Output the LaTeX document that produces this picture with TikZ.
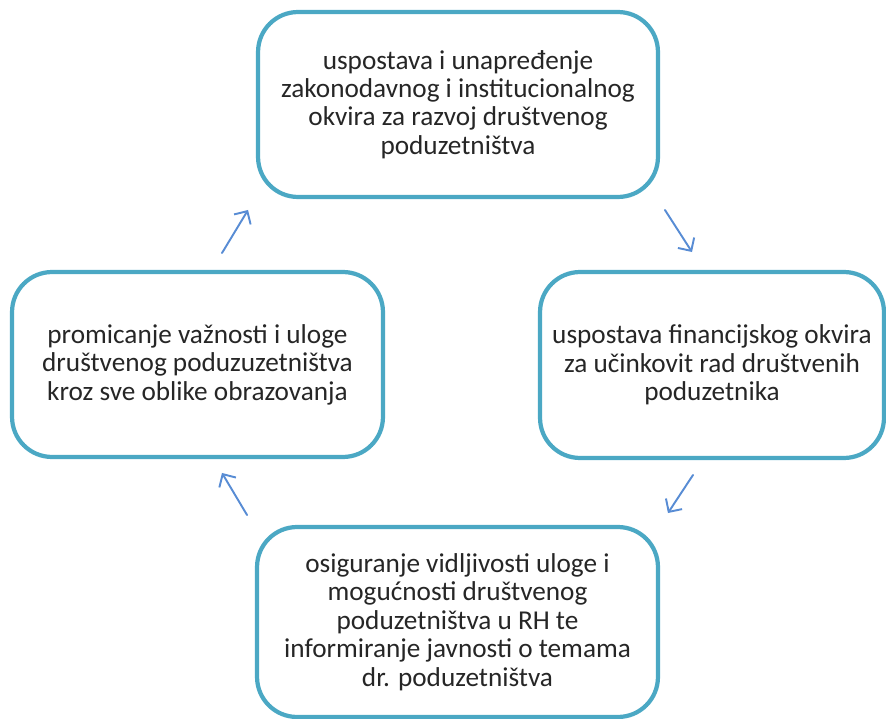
\documentclass[tikz,border=0pt]{standalone}
\usepackage{fontspec}
\setmainfont{Carlito}
\usetikzlibrary{arrows.meta,positioning}
\definecolor{okvirboja}{RGB}{75,168,196}
\definecolor{tokboja}{RGB}{88,140,212}

\begin{document}
\begin{tikzpicture}[x=0.02cm,y=-0.02cm,
    kutija/.style={draw=okvirboja, line width=2.4pt, rounded corners=0.8cm,
      fill=white, outer sep=0pt, align=center, text=black!85,
      font=\fontsize{15.5}{16.2}\selectfont},
    tok/.style={draw=tokboja, line width=1.1pt, line cap=round,
      -{Straight Barb[length=5.5pt,width=11pt]}}]
    \useasboundingbox (0,0) rectangle (886,719);
    \node[kutija, minimum width=8cm, minimum height=3.7cm] (gore) at (458,104.5)
      {uspostava i unapređenje\\ zakonodavnog i institucionalnog\\ okvira za razvoj društvenog\\ poduzetništva};
    \node[kutija, minimum width=6.88cm, minimum height=3.72cm] (desno) at (712,365)
      {uspostava financijskog okvira\\ za učinkovit rad društvenih\\ poduzetnika};
    \node[kutija, minimum width=8.02cm, minimum height=3.8cm] (dolje) at (457.5,622)
      {osiguranje vidljivosti uloge i\\ mogućnosti društvenog\\ poduzetništva u RH te\\ informiranje javnosti o temama\\ dr. poduzetništva};
    \node[kutija, minimum width=7.42cm, minimum height=3.7cm] (lijevo) at (197.5,364.5)
      {promicanje važnosti i uloge\\ društvenog poduzuzetništva\\ kroz sve oblike obrazovanja};
    \draw[tok] ([shift={(24.5,-19)}]lijevo.north) -- ([shift={(-10,13)}]gore.south west);
    \draw[tok] ([shift={(7,13)}]gore.south east) -- ([shift={(-20,-20)}]desno.north);
    \draw[tok] ([shift={(-19,17)}]desno.south) -- ([shift={(10,-14)}]dolje.north east);
    \draw[tok] ([shift={(-10,-12)}]dolje.north west) -- ([shift={(24.5,16)}]lijevo.south);
  \end{tikzpicture}
\end{document}
